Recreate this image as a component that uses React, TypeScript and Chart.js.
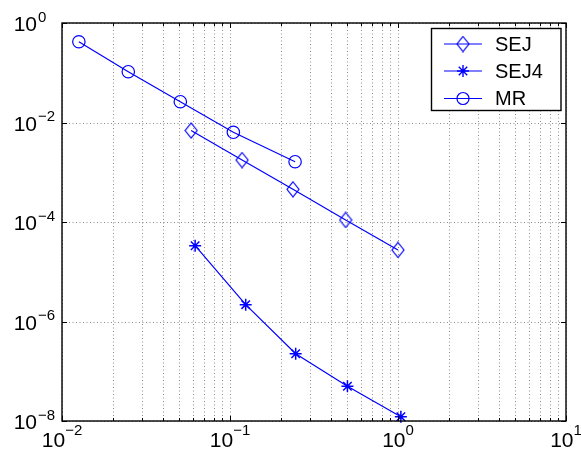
import React, { useEffect, useRef } from 'react';
import { Chart, registerables } from 'chart.js';

Chart.register(...registerables);

// ---- data ----
const seriesNames = ['SEJ', 'SEJ4', 'MR'];
const sejX = [0.0587, 0.118, 0.237, 0.488, 1.0];
const sejY = [0.0069, 0.00176, 4.54e-4, 1.1e-4, 2.74e-5];
const sej4X = [0.062, 0.124, 0.246, 0.5, 1.04];
const sej4Y = [3.34e-5, 2.18e-6, 2.25e-7, 4.98e-8, 1.22e-8];
const mrX = [0.0126, 0.0248, 0.0506, 0.1047, 0.244];
const mrY = [0.42, 0.105, 0.0262, 0.00635, 0.00163];

// ---- axes ----
const xMin = 0.01;
const xMax = 10;
const yMin = 1e-8;
const yMax = 1;
const xMajorExponents = [-2, -1, 0, 1];
const yMajorExponents = [-8, -6, -4, -2, 0];
const minorMultipliers = [2, 3, 4, 5, 6, 7, 8, 9];

const BLUE = '#0000ff';
const FONT = '"Liberation Sans", Arial, Helvetica, sans-serif';

function makeDiamond(): HTMLCanvasElement {
  const c = document.createElement('canvas');
  c.width = 14;
  c.height = 17;
  const g = c.getContext('2d')!;
  g.strokeStyle = BLUE;
  g.lineWidth = 1.2;
  g.beginPath();
  g.moveTo(7, 1);
  g.lineTo(13, 8.5);
  g.lineTo(7, 16);
  g.lineTo(1, 8.5);
  g.closePath();
  g.stroke();
  return c;
}

function expText(e: number) {
  return e < 0 ? '\u2212' + Math.abs(e) : String(e);
}

export default function App() {
  const ref = useRef<HTMLCanvasElement | null>(null);

  useEffect(() => {
    const canvas = ref.current!;
    const diamond = makeDiamond();

    const xMinor: number[] = [];
    for (let i = 0; i < xMajorExponents.length - 1; i++) {
      for (const m of minorMultipliers) xMinor.push(m * Math.pow(10, xMajorExponents[i]));
    }
    const xMajor = xMajorExponents.map((e) => Math.pow(10, e));
    const yMajor = yMajorExponents.map((e) => Math.pow(10, e));

    const frame = {
      id: 'matlabFrame',
      beforeDatasetsDraw(chart: any) {
        const { ctx, chartArea: a, scales } = chart;
        const sx = scales.x;
        const sy = scales.y;
        ctx.save();
        ctx.strokeStyle = 'rgba(0,0,0,0.45)';
        ctx.lineWidth = 1;
        ctx.setLineDash([1, 2.5]);
        for (const v of [...xMinor, ...xMajor]) {
          const px = Math.round(sx.getPixelForValue(v)) + 0.5;
          ctx.beginPath();
          ctx.moveTo(px, a.top);
          ctx.lineTo(px, a.bottom);
          ctx.stroke();
        }
        for (const v of yMajor) {
          const py = Math.round(sy.getPixelForValue(v)) + 0.5;
          ctx.beginPath();
          ctx.moveTo(a.left, py);
          ctx.lineTo(a.right, py);
          ctx.stroke();
        }
        ctx.restore();
      },
      afterDraw(chart: any) {
        const { ctx, chartArea: a, scales } = chart;
        const sx = scales.x;
        const sy = scales.y;
        ctx.save();
        ctx.setLineDash([]);
        ctx.strokeStyle = '#000';
        ctx.lineWidth = 1;
        const tick = (x1: number, y1: number, x2: number, y2: number) => {
          ctx.beginPath();
          ctx.moveTo(x1, y1);
          ctx.lineTo(x2, y2);
          ctx.stroke();
        };
        for (const v of xMinor) {
          const px = Math.round(sx.getPixelForValue(v)) + 0.5;
          tick(px, a.bottom, px, a.bottom - 3);
          tick(px, a.top, px, a.top + 3);
        }
        for (const v of xMajor) {
          const px = Math.round(sx.getPixelForValue(v)) + 0.5;
          tick(px, a.bottom, px, a.bottom - 5);
          tick(px, a.top, px, a.top + 5);
        }
        for (const v of yMajor) {
          const py = Math.round(sy.getPixelForValue(v)) + 0.5;
          tick(a.left, py, a.left + 5, py);
          tick(a.right, py, a.right - 5, py);
        }
        ctx.lineWidth = 1.4;
        ctx.strokeRect(a.left, a.top, a.right - a.left, a.bottom - a.top);

        // tick labels
        ctx.fillStyle = '#000';
        ctx.textBaseline = 'alphabetic';
        const baseFont = `21px ${FONT}`;
        const supFont = `15px ${FONT}`;
        for (const e of xMajorExponents) {
          const px = sx.getPixelForValue(Math.pow(10, e));
          ctx.font = baseFont;
          const wb = ctx.measureText('10').width;
          ctx.font = supFont;
          const es = expText(e);
          const we = ctx.measureText(es).width;
          const start = px - (wb + we) / 2;
          ctx.textAlign = 'left';
          ctx.font = baseFont;
          ctx.fillText('10', start, 447);
          ctx.font = supFont;
          ctx.fillText(es, start + wb, 435);
        }
        for (const e of yMajorExponents) {
          const py = sy.getPixelForValue(Math.pow(10, e));
          ctx.font = baseFont;
          ctx.textAlign = 'right';
          ctx.fillText('10', 37, py + 8);
          ctx.font = supFont;
          ctx.textAlign = 'left';
          ctx.fillText(expText(e), 38, py - 1.5);
        }

        // legend
        const lx = 431.5;
        const ly = 28.5;
        const lw = 129.5;
        const lh = 82;
        ctx.fillStyle = '#fff';
        ctx.fillRect(lx, ly, lw, lh);
        ctx.strokeStyle = '#000';
        ctx.lineWidth = 1.4;
        ctx.strokeRect(lx, ly, lw, lh);
        const rows = [44, 71, 98.5];
        chart.data.datasets.forEach((ds: any, i: number) => {
          const ry = rows[i];
          ctx.strokeStyle = BLUE;
          ctx.lineWidth = 1.2;
          ctx.beginPath();
          ctx.moveTo(444, ry);
          ctx.lineTo(482, ry);
          ctx.stroke();
          const cx = 463;
          if (i === 0) {
            ctx.drawImage(diamond, cx - diamond.width / 2, ry - diamond.height / 2);
          } else if (i === 1) {
            const r = 6;
            ctx.lineWidth = 1.4;
            ctx.beginPath();
            for (let k = 0; k < 4; k++) {
              const ang = (k * Math.PI) / 4;
              ctx.moveTo(cx - r * Math.cos(ang), ry - r * Math.sin(ang));
              ctx.lineTo(cx + r * Math.cos(ang), ry + r * Math.sin(ang));
            }
            ctx.stroke();
          } else {
            ctx.beginPath();
            ctx.arc(cx, ry, 6, 0, Math.PI * 2);
            ctx.stroke();
          }
          ctx.fillStyle = '#000';
          ctx.font = `20px ${FONT}`;
          ctx.textAlign = 'left';
          ctx.textBaseline = 'middle';
          ctx.fillText(ds.label, 495, ry + 1);
          ctx.textBaseline = 'alphabetic';
        });
        ctx.restore();
      },
    };

    const toPts = (xs: number[], ys: number[]) => xs.map((x, i) => ({ x, y: ys[i] }));
    const common = {
      borderColor: BLUE,
      backgroundColor: 'transparent',
      pointBorderColor: BLUE,
      pointBackgroundColor: 'transparent',
      borderWidth: 1.2,
      pointBorderWidth: 1.2,
      tension: 0,
      clip: false as any,
    };

    const chart = new Chart(canvas, {
      type: 'line',
      data: {
        datasets: [
          { ...common, label: seriesNames[0], data: toPts(sejX, sejY), pointStyle: diamond as any, pointRadius: 7 },
          { ...common, label: seriesNames[1], data: toPts(sej4X, sej4Y), pointStyle: 'star', pointRadius: 6, pointBorderWidth: 1.5 },
          { ...common, label: seriesNames[2], data: toPts(mrX, mrY), pointStyle: 'circle', pointRadius: 6.2 },
        ],
      },
      options: {
        responsive: false,
        animation: false,
        events: [],
        layout: { padding: { left: 62, top: 23, right: 15, bottom: 36 } },
        plugins: { legend: { display: false }, tooltip: { enabled: false } },
        scales: {
          x: { type: 'logarithmic', min: xMin, max: xMax, display: false },
          y: { type: 'logarithmic', min: yMin, max: yMax, display: false },
        },
      },
      plugins: [frame],
    });
    return () => chart.destroy();
  }, []);

  return (
    <div style={{ position: 'fixed', left: 0, top: 0, width: 581, height: 457, background: '#fff' }}>
      <canvas ref={ref} width={581} height={457} style={{ display: 'block' }} />
    </div>
  );
}
